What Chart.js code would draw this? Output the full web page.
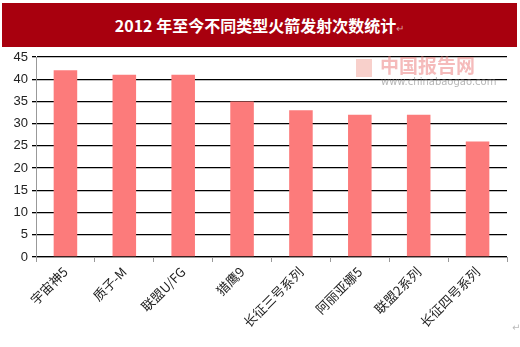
<!DOCTYPE html>
<html>
<head>
<meta charset="utf-8">
<script src="https://cdn.jsdelivr.net/npm/chart.js@4/dist/chart.umd.min.js"></script>
<style>
	body { margin: 0; background: #fff; }
	#wrap { position: relative; width: 520px; height: 347px; }
	#title {
		position: absolute; left: 2px; top: 3px; width: 515px; height: 44px;
		background: #a8000e; color: #fff; text-align: center;
		font: bold 16px "Noto Sans CJK SC", sans-serif; line-height: 44px;
	}
	#title span { color: #d99; font-size: 10px; font-weight: normal; }
	#mark { position: absolute; left: 512px; top: 322px; color: #bbb; font: 10px "DejaVu Sans"; }
	canvas { position: absolute; left: 0; top: 0; }
</style>
</head>
<body>
<div id="wrap">
	<canvas id="rockets" width="520" height="347"></canvas>
	<div id="title">2012 年至今不同类型火箭发射次数统计<span>↵</span></div>
	<div id="mark">↵</div>
</div>
<script type="text/javascript">
	var rocketNames = ['宇宙神5', '质子-M', '联盟U/FG', '猎鹰9', '长征三号系列', '阿丽亚娜5', '联盟2系列', '长征四号系列'];
	var launchCounts = [42, 41, 41, 35, 33, 32, 32, 26];
	var yTicks = [0, 5, 10, 15, 20, 25, 30, 35, 40, 45];

	// faint site watermark behind the bars
	var watermark = {
		id: 'watermark',
		beforeDatasetsDraw: function(chart) {
			var ctx = chart.ctx;
			ctx.save();
			ctx.fillStyle = 'rgba(240,150,140,0.45)';
			ctx.fillRect(356, 59, 16, 18);
			ctx.font = 'bold 19px "Noto Sans CJK SC"';
			ctx.fillStyle = 'rgba(235,120,120,0.5)';
			ctx.textBaseline = 'middle';
			ctx.fillText('中国报告网', 380, 66);
			ctx.font = '10px "DejaVu Sans"';
			ctx.fillStyle = 'rgba(120,120,120,0.55)';
			ctx.fillText('www.chinabaogao.com', 381, 82);
			ctx.restore();
		}
	};

	var ctx = document.getElementById('rockets').getContext('2d');
	var chart = new Chart(ctx, {
		type: 'bar',
		data: {
			labels: rocketNames,
			datasets: [{
				data: launchCounts,
				backgroundColor: '#fc7b7b',
				barPercentage: 0.4,
				categoryPercentage: 1.0
			}]
		},
		options: {
			responsive: false,
			animation: false,
			layout: { padding: { top: 57, right: 13, bottom: 3, left: 0 } },
			plugins: { legend: { display: false }, tooltip: { enabled: false } },
			scales: {
				x: {
					afterFit: function(scale) { scale.height = 87; },
					border: { color: '#999' },
					grid: { offset: true, drawOnChartArea: false, color: '#999', tickLength: 5 },
					ticks: {
						minRotation: 45, maxRotation: 45, color: '#222', padding: 2,
						font: { family: '"Noto Sans CJK SC"', size: 13 }
					}
				},
				y: {
					min: 0, max: 45,
					afterFit: function(scale) { scale.width = 36; },
					afterBuildTicks: function(scale) {
						scale.ticks = yTicks.map(function(v) { return { value: v }; });
					},
					border: { color: '#999' },
					grid: { color: '#000', lineWidth: 1.3, tickLength: 4 },
					ticks: { color: '#222', padding: 4, font: { family: 'Arimo, "Liberation Sans", Arial', size: 13 } }
				}
			}
		},
		plugins: [watermark]
	});
</script>
</body>
</html>
